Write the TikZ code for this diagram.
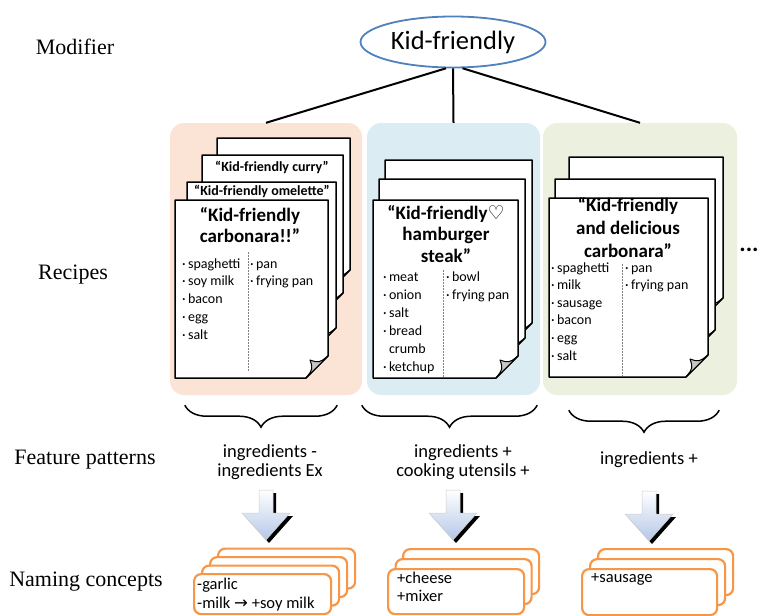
\documentclass[tikz,border=0pt]{standalone}
\usepackage{fontspec}
\setmainfont{Carlito}
\newfontfamily\labelfont{Liberation Serif}
\newfontfamily\symfont{DejaVu Sans}
\usetikzlibrary{shapes.geometric,decorations.pathreplacing}

\definecolor{peach}{RGB}{251,228,213}
\definecolor{paleblue}{RGB}{219,236,243}
\definecolor{palegreen}{RGB}{235,241,222}
\definecolor{kfblue}{RGB}{79,129,189}
\definecolor{nameorange}{RGB}{247,150,70}
\definecolor{arrowblue}{RGB}{180,199,231}

% recipe sheet: corners (#1,#2) and (#3,#4), lower right corner folded
\newcommand\recipecard[4]{%
  \filldraw[card] (#1,#2) -- (#3,#2) -- (#3,#4-22) -- (#3-22,#4) -- (#1,#4) -- cycle;
  \filldraw[fold] (#3-22,#4) -- (#3,#4-22) .. controls (#3-9,#4-15) .. (#3-18,#4-18)
    .. controls (#3-15,#4-9) .. (#3-22,#4) -- cycle;
}

\tikzset{downblock/.pic={
  \fill[black] (-4,3) -- (10,3) -- (10,26) -- (27,26) -- (3,53) -- (-21,26) -- (-4,26) -- cycle;
  \shadedraw[top color=white, bottom color=arrowblue, draw=gray!40, line width=0.5pt]
    (-7,0) -- (7,0) -- (7,23) -- (24,23) -- (0,50) -- (-24,23) -- (-7,23) -- cycle;
}}

\begin{document}
\begin{tikzpicture}[x=1pt, y=-1pt,
  card/.style={fill=white, draw=black, line width=1.5pt, line join=round},
  fold/.style={fill=gray!45, draw=black, line width=1pt, line join=round},
  panel/.style={rounded corners=14pt, inner sep=0pt, minimum height=272pt},
  side/.style={font=\labelfont\fontsize{22}{26}\selectfont},
  stem/.style={line width=2pt},
  cardtitle/.style={align=center, inner sep=0pt, font=\bfseries\fontsize{19}{21.5}\selectfont},
  subtitle/.style={inner sep=0pt, font=\bfseries\fontsize{14}{16}\selectfont},
  listitem/.style={anchor=base west, inner sep=0pt, font=\fontsize{14}{17}\selectfont},
  colsep/.style={gray, line width=0.8pt, dash pattern=on 1.5pt off 1.5pt},
  groupbrace/.style={decorate, decoration={brace, mirror, amplitude=22pt}, line width=1.5pt},
  feature/.style={align=center, inner sep=0pt, font=\fontsize{18.5}{19.5}\selectfont},
  namebox/.style={draw=nameorange, line width=2.2pt, fill=white, rounded corners=7pt, anchor=north west, inner sep=0pt},
  nametext/.style={anchor=base west, inner sep=0pt, font=\fontsize{16.5}{19}\selectfont}]
\useasboundingbox (0,0) rectangle (759,615);

% row labels
\node[side] (modlbl) at (75,47) {Modifier};
\node[side] (reclbl) at (73,275) {Recipes};
\node[side] (featlbl) at (85,460) {Feature patterns};
\node[side] (namelbl) at (86,582) {Naming concepts};

% modifier and the three recipe groups
\node[ellipse, draw=kfblue, line width=1.8pt, fill=white, minimum width=156pt, minimum height=51pt,
  font=\fontsize{26.5}{30}\selectfont] (kf) at (453,42) {Kid-friendly};

\node[panel, fill=peach, minimum width=192pt] (recA) at (266,259) {};
\node[panel, fill=paleblue, minimum width=173pt] (recB) at (453.5,259) {};
\node[panel, fill=palegreen, minimum width=194pt] (recC) at (640,259) {};

\draw[stem] (kf.255) -- (recA.north);
\draw[stem] (kf.south) -- (recB.north);
\draw[stem] (kf.290) -- (recC.north);

% first stack
\recipecard{217}{138}{350}{292}
\recipecard{202}{155}{343}{315}
\recipecard{187}{182}{336}{350}
\recipecard{175}{200}{328}{378}
\node[subtitle] (curry) at (272,167) {“Kid-friendly curry”};
\node[subtitle] (omelette) at (262,191) {“Kid-friendly omelette”};
\node[cardtitle] (carbA) at (250,225) {“Kid-friendly\\carbonara!!”};
\foreach \ing [count=\i from 0] in {spaghetti, soy milk, bacon, egg, salt}
  \node[listitem] (ingA\i) at (182,268+17.8*\i) {·\,\ing};
\foreach \ing [count=\i from 0] in {pan, frying pan}
  \node[listitem] (toolA\i) at (250,268+17.8*\i) {·\,\ing};
\draw[colsep] (248,252) -- (248,372);

% second stack
\recipecard{385}{160}{532}{345}
\recipecard{379}{179}{525}{360}
\recipecard{373}{200}{518}{378}
\node[cardtitle] (steak) at (446,234) {“Kid-friendly{\symfont ♡}\\hamburger\\steak”};
\foreach \ing [count=\i from 0] in {·\,meat, ·\,onion, ·\,salt, ·\,bread, \phantom{·\,}crumb, ·\,ketchup}
  \node[listitem] (ingB\i) at (383,281+18*\i) {\ing};
\foreach \ing [count=\i from 0] in {bowl, frying pan}
  \node[listitem] (toolB\i) at (446,281+18*\i) {·\,\ing};
\draw[colsep] (443,270) -- (443,377);

% third stack
\recipecard{569}{157}{723}{320}
\recipecard{555}{179}{715}{352}
\recipecard{549}{198}{708}{377}
\node[cardtitle, font=\bfseries\fontsize{19}{23}\selectfont] (carbC) at (628,228)
  {“Kid-friendly\\and delicious\\carbonara”};
\foreach \ing [count=\i from 0] in {spaghetti, milk, sausage, bacon, egg, salt}
  \node[listitem] (ingC\i) at (551,272+17.6*\i) {·\,\ing};
\foreach \ing [count=\i from 0] in {pan, frying pan}
  \node[listitem] (toolC\i) at (625,272+17.6*\i) {·\,\ing};
\draw[colsep] (622,264) -- (622,376);

\node[font=\bfseries\fontsize{24}{26}\selectfont, inner sep=0pt] (more) at (749,250) {...};

% feature patterns
\draw[groupbrace] ([xshift=15pt,yshift=-10pt]recA.south west) -- ([xshift=-25pt,yshift=-10pt]recA.south east);
\draw[groupbrace] ([xshift=-5pt,yshift=-10pt]recB.south west) -- ([xshift=-3pt,yshift=-10pt]recB.south east);
\draw[groupbrace] ([xshift=26pt,yshift=-15pt]recC.south west) -- ([xshift=-18pt,yshift=-15pt]recC.south east);

\node[feature] (featA) at (270,462) {ingredients -\\ingredients Ex};
\node[feature] (featB) at (463,462) {ingredients +\\cooking utensils +};
\node[feature] (featC) at (649,460) {ingredients +};

\pic (arrA) at (266,490) {downblock};
\pic (arrB) at (453,490) {downblock};
\pic (arrC) at (649,491) {downblock};

% naming concepts
\foreach \k in {3,2,1,0}
  \node[namebox, minimum width=137pt, minimum height=40pt] (boxA\k) at (193+8*\k,573-8.5*\k) {};
\node[nametext] (nameA0) at (197,589.5) {-garlic};
\node[nametext] (nameA1) at (197,608.5) {-milk {\symfont →} +soy milk};

\foreach \k in {2,1,0}
  \node[namebox, minimum width=136pt, minimum height=45pt] (boxB\k) at (387+7.5*\k,568-10*\k) {};
\node[nametext] (nameB0) at (397,583.5) {+cheese};
\node[nametext] (nameB1) at (397,601.5) {+mixer};

\foreach \k in {2,1,0}
  \node[namebox, minimum width=135pt, minimum height=46pt] (boxC\k) at (581+8*\k,568-10*\k) {};
\node[nametext] (nameC0) at (591,582.5) {+sausage};
\end{tikzpicture}
\end{document}
